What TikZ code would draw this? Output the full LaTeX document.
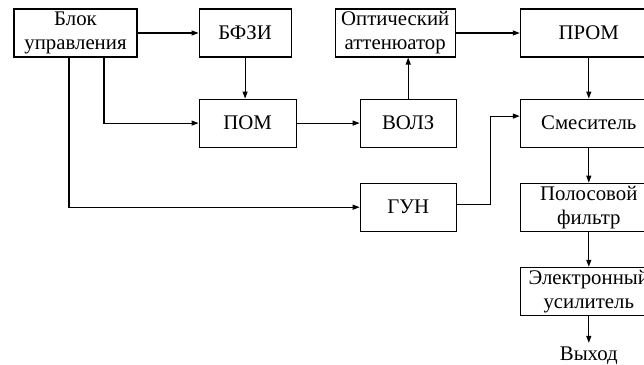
\documentclass[tikz,border=0pt]{standalone}
\usepackage{fontspec}
\setmainfont{Liberation Serif}
\usetikzlibrary{arrows.meta, positioning}

\begin{document}
\begin{tikzpicture}[
  x=1pt, y=1pt,
  font=\fontsize{20.8}{24}\selectfont,
  block/.style={draw, line width=1.1pt, align=center, inner sep=0pt,
                minimum height=48pt},
  arr/.style={-{Triangle[length=7pt, width=5pt]}, line width=1.1pt},
  node distance=35pt and 61pt]

  \useasboundingbox (0,0) rectangle (644,-364);

  % top row
  \node[block, minimum width=123pt] at (75.5,-33)
    (ctrl) {Блок\\управления};
  \node[block, minimum width=92pt, right=61pt of ctrl] (bfzi) {БФЗИ};
  \node[block, minimum width=120pt, right=43pt of bfzi]
    (att) {Оптический\\аттенюатор};
  \node[block, minimum width=137pt, right=64pt of att] (prom) {ПРОМ};

  % middle rows
  \node[block, minimum width=97pt, below=41pt of bfzi, xshift=2.5pt] (pom) {ПОМ};
  \node[block, minimum width=96pt, right=63pt of pom] (volz) {ВОЛЗ};
  \node[block, minimum width=96pt, below=of volz] (gun) {ГУН};

  % output column
  \node[block, minimum width=137pt, below=41pt of prom] (mix) {Смеситель};
  \node[block, minimum width=137pt, below=of mix] (filt) {Полосовой\\фильтр};
  \node[block, minimum width=137pt, below=of filt]
    (amp) {Электронный\\усилитель};
  \node[inner sep=4pt, below=27pt of amp] (out) {Выход};

  % flows
  \draw[arr] (ctrl) -- (bfzi);
  \draw[arr] (bfzi.south) -- (bfzi.south |- pom.north);
  \draw[arr] ([xshift=28.5pt]ctrl.south) |- (pom.west);
  \draw[arr] ([xshift=-6.5pt]ctrl.south) |- (gun.west);
  \draw[arr] (pom) -- (volz);
  \draw[arr] (volz.north) -- (volz.north |- att.south);
  \draw[arr] (att) -- (prom);
  \draw[arr] (prom) -- (mix);
  \draw[arr] ([yshift=3pt]gun.east) -- ++(34pt,0) |- ([yshift=7pt]mix.west);
  \draw[arr] (mix) -- (filt);
  \draw[arr] (filt) -- (amp);
  \draw[arr] (amp) -- (out);
\end{tikzpicture}
\end{document}
